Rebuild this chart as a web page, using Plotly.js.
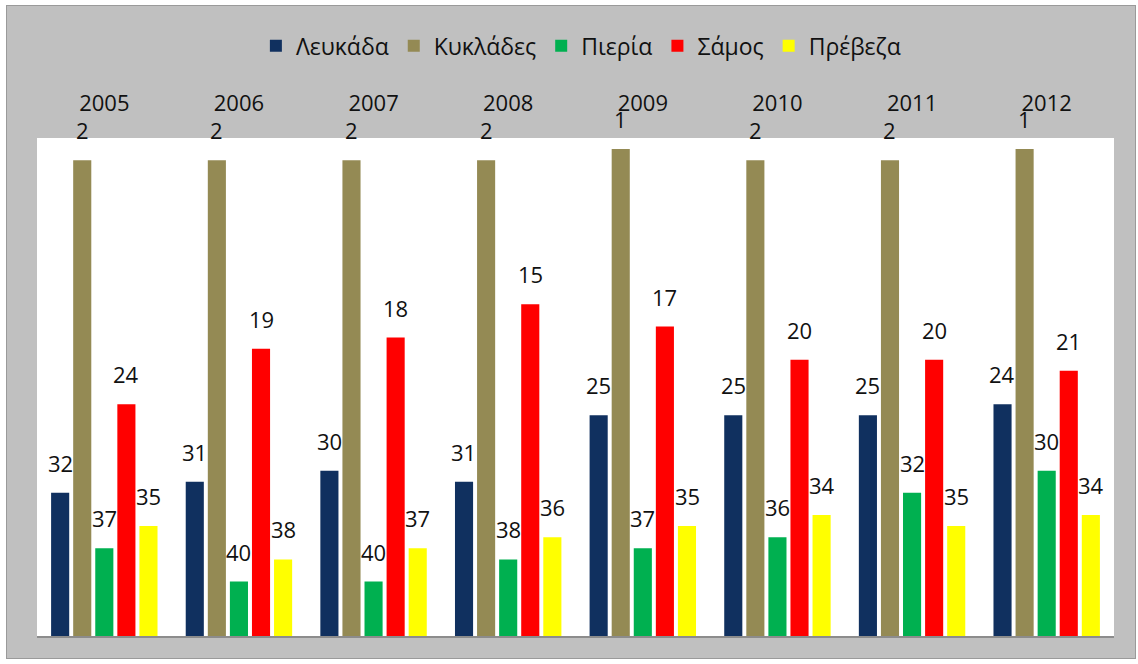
<!DOCTYPE html>
<html>
<head>
<meta charset="utf-8">
<script src="https://cdn.plot.ly/plotly-3.0.1.min.js"></script>
<style>
  html, body { margin: 0; padding: 0; background: #ffffff; }
  #chart { position: absolute; left: 6px; top: 5px; width: 1128px; height: 652px; border: 1px solid #9a9a9a; }
</style>
</head>
<body>
<div id="chart"></div>
<script>
const years = ['2005', '2006', '2007', '2008', '2009', '2010', '2011', '2012'];
const seriesNames = ['Λευκάδα', 'Κυκλάδες', 'Πιερία', 'Σάμος', 'Πρέβεζα'];
const lefkada  = [32, 31, 30, 31, 25, 25, 25, 24];
const kyklades = [2, 2, 2, 2, 1, 2, 2, 1];
const pieria   = [37, 40, 40, 38, 37, 36, 32, 30];
const samos    = [24, 19, 18, 15, 17, 20, 20, 21];
const preveza  = [35, 38, 37, 36, 35, 34, 35, 34];
const colors = ['#10305F', '#948A54', '#00B050', '#FF0000', '#FFFF00'];

const allSeries = [lefkada, kyklades, pieria, samos, preveza];
const BASE = 45;
const FONT = 'Open Sans, Noto Sans, DejaVu Sans, sans-serif';

const traces = allSeries.map((vals, i) => ({
  type: 'bar',
  name: seriesNames[i],
  x: years,
  y: vals.map(v => v - BASE),
  base: BASE,
  marker: { color: colors[i] },
  hoverinfo: 'skip'
}));

const slot = 22.1;
const annotations = [];
allSeries.forEach((vals, i) => {
  vals.forEach((v, j) => {
    annotations.push({
      x: j, y: v, xref: 'x', yref: 'y',
      text: String(v), showarrow: false,
      xanchor: 'center', yanchor: 'bottom',
      xshift: (i - 2) * slot, yshift: 13,
      font: { family: FONT, size: 22, color: '#111111' }
    });
  });
});

const layout = {
  width: 1128, height: 652,
  margin: { l: 30, r: 21, t: 132, b: 21 },
  paper_bgcolor: '#C0C0C0',
  plot_bgcolor: '#FFFFFF',
  barmode: 'group',
  bargap: 0.18,
  bargroupgap: 0.18,
  showlegend: true,
  legend: {
    orientation: 'h', x: 0.505, xanchor: 'center', y: 1.185, yanchor: 'middle',
    font: { family: FONT, size: 23, color: '#111111' },
    bgcolor: 'rgba(0,0,0,0)', itemwidth: 30, traceorder: 'normal'
  },
  xaxis: {
    side: 'top', type: 'category',
    range: [-0.5, years.length - 0.5], autorange: false,
    showgrid: false, zeroline: false, showline: false, ticks: '',
    ticklabelstandoff: 22,
    tickfont: { family: FONT, size: 22, color: '#111111' }
  },
  yaxis: {
    range: [BASE, 0], autorange: false,
    showgrid: false, zeroline: false, showticklabels: false, ticks: '',
    showline: false
  },
  shapes: [{
    type: 'line', xref: 'paper', yref: 'paper', x0: 0, x1: 1, y0: 0, y1: 0,
    line: { color: '#8c8c8c', width: 2 }
  }],
  annotations: annotations
};

Plotly.newPlot('chart', traces, layout, { displayModeBar: false, staticPlot: true });
</script>
</body>
</html>
